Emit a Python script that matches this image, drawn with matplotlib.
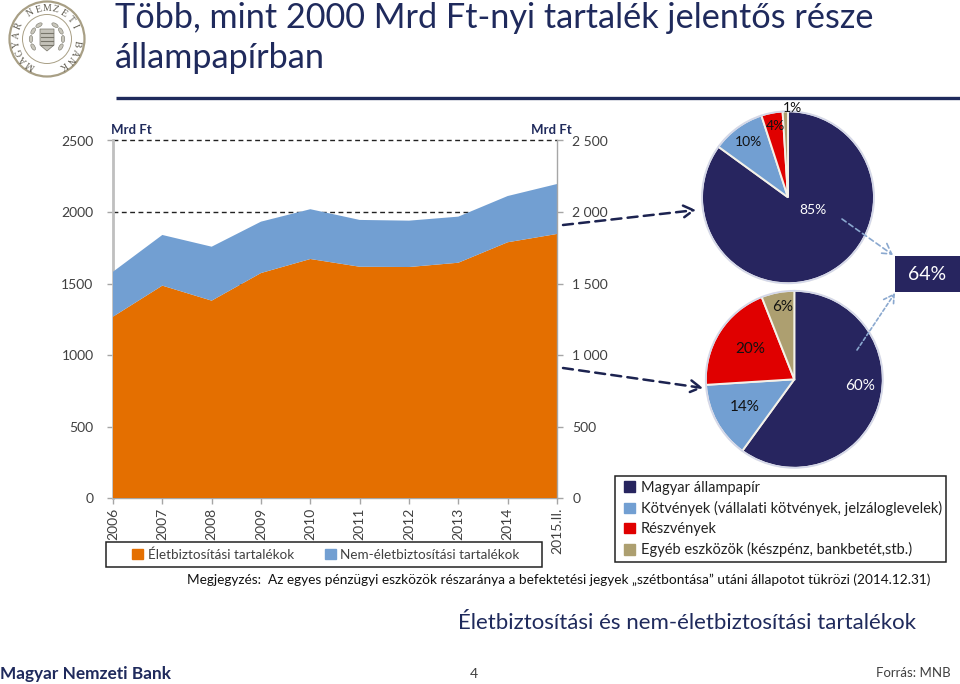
import numpy as np
import matplotlib
matplotlib.use('Agg')
import matplotlib.pyplot as plt
from matplotlib.patches import Circle, Rectangle, FancyArrowPatch, Ellipse, Polygon

plt.rcParams['font.family'] = ['Lato', 'DejaVu Sans']

# --- data ---
years = ['2006', '2007', '2008', '2009', '2010', '2011', '2012', '2013', '2014', '2015.II.']
life_reserves = [1269, 1486, 1381, 1574, 1672, 1618, 1616, 1646, 1789, 1847]
nonlife_reserves = [314, 354, 377, 359, 348, 327, 324, 322, 323, 349]
y_ticks = [0, 500, 1000, 1500, 2000, 2500]
y_labels_left = ['0', '500', '1000', '1500', '2000', '2500']
y_labels_right = ['0', '500', '1 000', '1 500', '2 000', '2 500']

nonlife_shares = [85, 10, 4, 1]
life_shares = [60, 14, 20, 6]
asset_labels = ['Magyar állampapír',
                'Kötvények (vállalati kötvények, jelzáloglevelek)',
                'Részvények',
                'Egyéb eszközök (készpénz, bankbetét,stb.)']
area_labels = ['Életbiztosítási tartalékok', 'Nem-életbiztosítási tartalékok']

NAVY = '#27255F'
TITLE = '#1F2A5C'
BLUE = '#729FD2'
ORANGE = '#E46F00'
RED = '#E00000'
TAN = '#AD9F70'
GREY_TXT = '#404040'
ASSET_COLORS = [NAVY, BLUE, RED, TAN]

W, H = 960, 684


def px_rect(x0, y0, x1, y1):
    # pixel box (y down) to figure fractions
    return [x0 / W, 1 - y1 / H, (x1 - x0) / W, (y1 - y0) / H]


fig = plt.figure(figsize=(9.6, 6.84), dpi=100, facecolor='white')

# --- area chart ---
ax = fig.add_axes(px_rect(113, 140.5, 557, 498.3))
x = np.arange(len(years))
ax.stackplot(x, life_reserves, nonlife_reserves, colors=[ORANGE, BLUE], zorder=3)
ax.set_xlim(0, len(years) - 1)
ax.set_ylim(0, 2500)
ax.set_yticks(y_ticks)
ax.set_yticklabels(y_labels_left)
ax.set_xticks(x)
ax.set_xticklabels(years, rotation=90, fontsize=10, color=GREY_TXT)
ax.grid(axis='y', color='#222222', linestyle=(0, (3.5, 2.5)), linewidth=1.0, zorder=1)
ax.set_axisbelow(True)
for gl in ax.get_ygridlines():
    gl.set_clip_on(False)
ax.get_ygridlines()[0].set_visible(False)
ax.tick_params(axis='y', length=4, width=1, color='#a6a6a6', labelsize=10,
               labelcolor=GREY_TXT, pad=10)
ax.tick_params(axis='x', length=4, width=1, color='#a6a6a6', pad=3)
for side in ['top', 'right']:
    ax.spines[side].set_visible(False)
ax.spines['left'].set_color('#bfbfbf')
ax.spines['left'].set_linewidth(2)
ax.spines['bottom'].set_color('#a6a6a6')
ax.spines['bottom'].set_linewidth(1)

ax_r = ax.twinx()
ax_r.set_ylim(0, 2500)
ax_r.set_yticks(y_ticks)
ax_r.set_yticklabels(y_labels_right)
ax_r.tick_params(axis='y', length=4, width=1, color='#a6a6a6', labelsize=10,
                 labelcolor=GREY_TXT, pad=7)
for side in ['top', 'left', 'bottom']:
    ax_r.spines[side].set_visible(False)
ax_r.spines['right'].set_color('#a6a6a6')
ax_r.spines['right'].set_linewidth(1)

# --- legend under the area chart (frame drawn separately, it is wider than the entries) ---
area_handles = [Rectangle((0, 0), 1, 1, color=ORANGE), Rectangle((0, 0), 1, 1, color=BLUE)]
fig.add_artist(Rectangle((105.7 / W, 1 - 566.7 / H), 436 / W, 24.4 / H, facecolor='white',
                         edgecolor='#222222', lw=1.1, transform=fig.transFigure, zorder=2))
leg = fig.legend(area_handles, area_labels, ncol=2, loc='center',
                 bbox_to_anchor=(326 / W, 1 - 554.5 / H),
                 fontsize=9.7, frameon=False, handlelength=0.8, handleheight=0.8,
                 handletextpad=0.35, columnspacing=2.3, borderpad=0, labelcolor=GREY_TXT)
leg.set_zorder(3)


# --- pies ---
def draw_pie(cx, cy, r, shares):
    pie_ax = fig.add_axes(px_rect(cx - r, cy - r, cx + r, cy + r))
    pie_ax.pie(shares, colors=ASSET_COLORS, startangle=90, counterclock=False,
               radius=1, wedgeprops={'edgecolor': '#F4F1E8', 'linewidth': 1.4})
    pie_ax.add_patch(Circle((0, 0), 1, fill=False, edgecolor='#D3D7EA', linewidth=1.2))
    pie_ax.set_xlim(-1, 1)
    pie_ax.set_ylim(-1, 1)
    for p in pie_ax.patches:
        p.set_clip_on(False)
    return pie_ax


draw_pie(788, 197.3, 86, nonlife_shares)
draw_pie(794.3, 379.3, 88.5, life_shares)

# --- overlay in pixel coordinates: texts, arrows, boxes ---
ov = fig.add_axes([0, 0, 1, 1], zorder=10)
ov.set_xlim(0, W)
ov.set_ylim(H, 0)
ov.axis('off')
ov.patch.set_alpha(0)

ov.text(115, 18, 'Több, mint 2000 Mrd Ft-nyi tartalék jelentős része', fontsize=24.7,
        color=TITLE, va='center', ha='left')
ov.text(115, 58, 'állampapírban', fontsize=24.7, color=TITLE, va='center', ha='left')
ov.plot([116, 960], [98, 98], color=TITLE, lw=2.4, solid_capstyle='butt')

ov.text(111, 130, 'Mrd Ft', fontsize=9.5, fontweight='bold', color=TITLE, va='center')
ov.text(531, 130, 'Mrd Ft', fontsize=9.5, fontweight='bold', color=TITLE, va='center')

# percent labels on the pies
top_label_xy = [(813, 210), (748, 142), (775, 126), (792, 108)]
top_label_col = ['white', '#111111', '#111111', '#111111']
for share, (lx, ly), col in zip(nonlife_shares, top_label_xy, top_label_col):
    ov.text(lx, ly, f'{share}%', fontsize=10, color=col, ha='center', va='center')
bot_label_xy = [(860, 386), (745, 407), (750, 349), (783, 307)]
bot_label_col = ['white', '#111111', '#111111', '#111111']
for share, (lx, ly), col in zip(life_shares, bot_label_xy, bot_label_col):
    ov.text(lx, ly, f'{share}%', fontsize=11, color=col, ha='center', va='center')

# 64% box
ov.add_patch(Rectangle((895, 256), 65, 36, facecolor=NAVY, edgecolor='none'))
ov.text(927, 274, '64%', fontsize=14, color='white', ha='center', va='center')


def arrow(p0, p1, color, lw, dash):
    ov.add_patch(FancyArrowPatch(p0, p1, arrowstyle='->,head_length=6,head_width=3.5',
                                 color=color, lw=lw, linestyle=dash, shrinkA=0, shrinkB=0,
                                 mutation_scale=1.2))


arrow((563, 225), (696, 210), '#1C2350', 1.8, (0, (4, 2.5)))
arrow((563, 368), (703, 388), '#1C2350', 1.8, (0, (4, 2.5)))
arrow((842, 219), (893, 255), '#8AA8CF', 1.2, (0, (3, 2)))
arrow((857, 350), (895, 293), '#8AA8CF', 1.2, (0, (2, 1.5)))

# --- asset legend ---
asset_handles = [Rectangle((0, 0), 1, 1, color=c) for c in ASSET_COLORS]
fig.add_artist(Rectangle((615 / W, 1 - 561.7 / H), 330.7 / W, 86 / H, facecolor='white',
                         edgecolor='#222222', lw=1.1, transform=fig.transFigure, zorder=2))
leg2 = fig.legend(asset_handles, asset_labels, loc='center left',
                  bbox_to_anchor=(624 / W, 1 - 519 / H),
                  fontsize=10.5, frameon=False, handlelength=0.75, handleheight=0.75,
                  handletextpad=0.4, labelspacing=0.42, borderpad=0, borderaxespad=0,
                  labelcolor='#222222')
leg2.set_zorder(3)

ov.text(187, 580, 'Megjegyzés:  Az egyes pénzügyi eszközök részaránya a befektetési jegyek '
        '„szétbontása” utáni állapotot tükrözi (2014.12.31)', fontsize=9.8, color='#111111',
        va='center', ha='left')
ov.text(458, 623, 'Életbiztosítási és nem-életbiztosítási tartalékok', fontsize=16.05,
        color=TITLE, va='center', ha='left')
ov.text(0, 674, 'Magyar Nemzeti Bank', fontsize=12.4, fontweight='bold', color=TITLE,
        va='center', ha='left')
ov.text(474, 674, '4', fontsize=10, color=GREY_TXT, va='center', ha='center')
ov.text(951, 673, 'Forrás: MNB', fontsize=9.5, color=GREY_TXT, va='center', ha='right')

# --- bank seal ---
cx, cy = 47, 39
SEAL = '#A89F85'
ov.add_patch(Circle((cx, cy), 37.5, fill=False, edgecolor=SEAL, lw=1.6))
ov.add_patch(Circle((cx, cy), 24.5, fill=False, edgecolor=SEAL, lw=0.7))
seal_text = 'MAGYAR NEMZETI BANK'
seal_angles = np.linspace(-148, 148, len(seal_text))
for ch, a in zip(seal_text, seal_angles):
    t = np.deg2rad(a)
    ov.text(cx + 30.5 * np.sin(t), cy - 30.5 * np.cos(t), ch, fontsize=7, rotation=-a,
            ha='center', va='center', family='Liberation Serif', color='#5E5A4E',
            rotation_mode='anchor')
for a in np.arange(0, 360, 30):
    if a in (0, 150, 180, 210):
        continue
    t = np.deg2rad(a)
    ov.add_patch(Ellipse((cx + 16 * np.sin(t), cy - 16 * np.cos(t)), 7, 3.5, angle=a,
                         facecolor='#C9C7BC', edgecolor='#77756A', lw=0.4))
ov.add_patch(Polygon([(cx - 7, cy - 10), (cx + 7, cy - 10), (cx + 7, cy + 6), (cx, cy + 12),
                      (cx - 7, cy + 6)], facecolor='#C4C2B9', edgecolor='#77756A', lw=0.5))
for dy in (-6, -2, 2, 6):
    ov.plot([cx - 6, cx + 6], [cy + dy, cy + dy], color='#77756A', lw=0.8)

fig.savefig('out.png', dpi=100, facecolor='white')
